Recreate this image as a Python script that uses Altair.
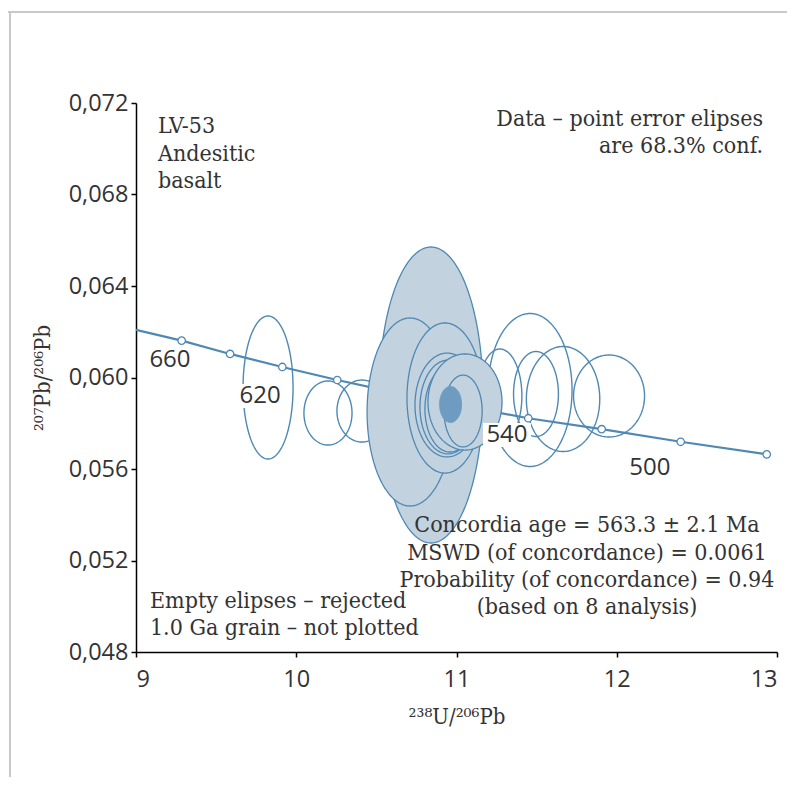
import numpy as np
import pandas as pd
import altair as alt

# ---------------- data ----------------
# Concordia curve (238U/206Pb vs 207Pb/206Pb); first point is where the curve leaves the axis
conc_x = [9.0, 9.285, 9.587, 9.913, 10.256, 10.627, 11.024, 11.448, 11.906, 12.399, 12.936]
conc_y = [0.06208, 0.06161, 0.06103, 0.06046, 0.05989, 0.05933, 0.05878, 0.05822, 0.05774, 0.05719, 0.05664]
marker_ages = [None, 660, 640, 620, 600, 580, 560, 540, 520, 500, 480]

# age labels along the concordia
label_text = ["660", "620", "540", "500"]
label_x = [9.212, 9.774, 11.315, 12.207]
label_y = [0.06076, 0.05919, 0.05749, 0.05604]

# rejected (empty) error ellipses: centre and semi-axes
rej_cx = [9.824, 10.198, 10.410, 11.459, 11.271, 11.496, 11.665, 11.952]
rej_cy = [0.059563, 0.058448, 0.058535, 0.059454, 0.059191, 0.059279, 0.059060, 0.059191]
rej_rx = [0.156, 0.150, 0.156, 0.262, 0.137, 0.140, 0.229, 0.2215]
rej_ry = [0.003126, 0.00140, 0.001355, 0.003344, 0.002055, 0.001858, 0.002295, 0.001792]

# accepted (filled) error ellipses, 8 analyses, drawn in this order
acc_cx = [10.841, 10.710, 10.928, 10.941, 10.947, 10.959, 11.053, 11.041]
acc_cy = [0.059235, 0.058492, 0.059104, 0.058798, 0.058710, 0.058623, 0.058929, 0.058535]
acc_rx = [0.3245, 0.268, 0.237, 0.200, 0.175, 0.156, 0.231, 0.119]
acc_ry = [0.00647, 0.00411, 0.00328, 0.00227, 0.00205, 0.00188, 0.00210, 0.00157]

# concordia age ellipse
age_cx = [10.963]
age_cy = [0.058820]
age_rx = [0.0686]
age_ry = [0.000787]

# annotations
ann_text = ["LV-53", "Andesitic", "basalt",
            "Data \u2013 point error elipses", "are 68.3% conf.",
            "Concordia age = 563.3 \u00b1 2.1 Ma", "MSWD (of concordance) = 0.0061",
            "Probability (of concordance) = 0.94", "(based on 8 analysis)",
            "Empty elipses \u2013 rejected", "1.0 Ga grain \u2013 not plotted"]
ann_x = [9.137, 9.137, 9.137, 12.913, 12.913, 11.814, 11.814, 11.814, 11.814, 9.087, 9.087]
ann_y = [0.070995, 0.069770, 0.068590, 0.071300, 0.070120,
         0.053552, 0.052328, 0.051148, 0.049967, 0.050230, 0.049049]
ann_align = ["left", "left", "left", "right", "right",
             "center", "center", "center", "center", "left", "left"]

x_ticks = [9, 10, 11, 12, 13]
y_ticks = [0.048, 0.052, 0.056, 0.060, 0.064, 0.068, 0.072]

# ---------------- build tables ----------------
def ellipse_table(prefix, cxs, cys, rxs, rys):
    rows = []
    t = np.linspace(0, np.pi, 91)
    for i, (cx, cy, rx, ry) in enumerate(zip(cxs, cys, rxs, rys)):
        for tt in t:
            rows.append({"id": f"{prefix}{i:02d}",
                         "x": cx + rx * np.cos(tt),
                         "y": cy + ry * np.sin(tt),
                         "y2": cy - ry * np.sin(tt)})
    return pd.DataFrame(rows)

rej_df = ellipse_table("r", rej_cx, rej_cy, rej_rx, rej_ry)
acc_df = ellipse_table("a", acc_cx, acc_cy, acc_rx, acc_ry)
age_df = ellipse_table("c", age_cx, age_cy, age_rx, age_ry)

conc_df = pd.DataFrame({"x": conc_x, "y": conc_y, "age": marker_ages})
mark_df = conc_df[conc_df["age"].notna()]
lab_df = pd.DataFrame({"x": label_x, "y": label_y, "t": label_text})
ann_df = pd.DataFrame({"x": ann_x, "y": ann_y, "t": ann_text, "a": ann_align})

# ---------------- styles ----------------
BLUE = "#4f89b3"
FILL = "#c3d2df"
DARK = "#6d9cc0"
TXT = "#333333"
SERIF = "DejaVu Serif Condensed, DejaVu Serif, serif"
SANS = "Open Sans, sans-serif"

xscale = alt.Scale(domain=[9, 13], nice=False, zero=False)
yscale = alt.Scale(domain=[0.048, 0.072], nice=False, zero=False)

xaxis = alt.Axis(values=x_ticks, format="d", title="\u00b2\u00b3\u2078U/\u00b2\u2070\u2076Pb",
                 labelPadding=10, titlePadding=16)
yaxis = alt.Axis(values=y_ticks, title="\u00b2\u2070\u2077Pb/\u00b2\u2070\u2076Pb",
                 labelExpr="replace(format(datum.value, '.3f'), '.', ',')",
                 labelPadding=3, titlePadding=14)

X = alt.X("x:Q", scale=xscale, axis=xaxis)
Y = alt.Y("y:Q", scale=yscale, axis=yaxis)

rejected = alt.Chart(rej_df).mark_area(
    fill=BLUE, fillOpacity=0, stroke=BLUE, strokeWidth=1.4
).encode(x=X, y=Y, y2="y2:Q", detail="id:N")

conc_line = alt.Chart(conc_df).mark_line(color=BLUE, strokeWidth=2.2).encode(x=X, y=Y)
conc_pts = alt.Chart(mark_df).mark_point(
    filled=True, fill="white", stroke=BLUE, strokeWidth=1.3, size=55, opacity=1
).encode(x=X, y=Y)

accepted = alt.Chart(acc_df).mark_area(
    fill=FILL, fillOpacity=1, stroke=BLUE, strokeWidth=1.3
).encode(x=X, y=Y, y2="y2:Q", detail="id:N")

age_ell = alt.Chart(age_df).mark_area(
    fill=DARK, fillOpacity=1, stroke=DARK, strokeWidth=1
).encode(x=X, y=Y, y2="y2:Q", detail="id:N")

lab_box = alt.Chart(lab_df).mark_point(
    shape="M-1,-0.5L1,-0.5L1,0.5L-1,0.5Z", filled=True, fill="white",
    strokeWidth=0, size=2300, opacity=1
).encode(x=X, y=Y)
lab_txt = alt.Chart(lab_df).mark_text(
    font=SANS, fontSize=24, color=TXT, baseline="middle", align="center"
).encode(x=X, y=Y, text="t:N")

ann_layers = []
for al in ["left", "right", "center"]:
    ann_layers.append(
        alt.Chart(ann_df[ann_df["a"] == al]).mark_text(
            font=SERIF, fontSize=23, color=TXT, baseline="middle", align=al
        ).encode(x=X, y=Y, text="t:N")
    )

frame_left = alt.Chart(conc_df).mark_rule(color="#c9c9c9", strokeWidth=2).encode(
    x=alt.value(-126), y=alt.value(-91), y2=alt.value(690))
frame_top = alt.Chart(conc_df).mark_rule(color="#c9c9c9", strokeWidth=2).encode(
    x=alt.value(-128), x2=alt.value(700), y=alt.value(-91))

chart = alt.layer(
    frame_left, frame_top,
    rejected, conc_line, conc_pts, accepted, age_ell, lab_box, lab_txt, *ann_layers
).properties(
    width=641, height=549,
    autosize=alt.AutoSizeParams(type="none"),
    padding={"left": 128, "top": 95, "right": 10, "bottom": 125},
).configure_view(stroke=None).configure_axis(
    grid=False, domainColor="black", domainWidth=1.5, tickColor="black", tickWidth=1.5,
    tickSize=5, labelFont=SANS, labelFontSize=23.5, labelColor=TXT,
    titleFont=SERIF, titleFontSize=22, titleFontWeight="normal", titleColor=TXT
)

chart.save("out.html", embed_options={"renderer": "svg", "actions": False})
